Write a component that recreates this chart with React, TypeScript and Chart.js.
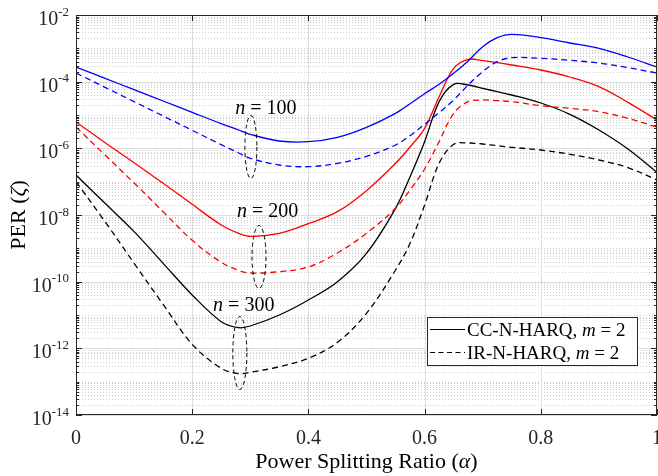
import { useEffect, useRef } from 'react';
import { Chart, registerables } from 'chart.js';

Chart.register(...registerables);

// Power splitting ratio samples
const alpha = [0, 0.05, 0.1, 0.15, 0.2, 0.25, 0.28, 0.3, 0.35, 0.4, 0.45, 0.5, 0.55, 0.575, 0.6, 0.625, 0.65, 0.675, 0.7, 0.725, 0.75, 0.8, 0.85, 0.9, 0.95, 1];

// log10(PER)
const ccN100 = [-3.56, -3.9, -4.24, -4.58, -4.92, -5.26, -5.45, -5.58, -5.78, -5.8, -5.67, -5.37, -4.95, -4.66, -4.36, -4.08, -3.75, -3.38, -2.95, -2.68, -2.58, -2.68, -2.84, -3.0, -3.26, -3.56];
const irN100 = [-3.74, -4.17, -4.6, -5.03, -5.46, -5.89, -6.14, -6.3, -6.5, -6.55, -6.45, -6.24, -5.9, -5.62, -5.28, -4.93, -4.55, -4.1, -3.7, -3.4, -3.28, -3.3, -3.36, -3.44, -3.58, -3.74];
const ccN200 = [-5.21, -5.83, -6.43, -7.05, -7.68, -8.3, -8.55, -8.64, -8.55, -8.26, -7.9, -7.27, -6.45, -5.96, -5.4, -4.45, -3.6, -3.33, -3.37, -3.43, -3.5, -3.65, -3.86, -4.15, -4.62, -5.15];
const irN200 = [-5.36, -6.2, -7.04, -7.9, -8.76, -9.42, -9.66, -9.74, -9.7, -9.56, -9.14, -8.55, -7.8, -7.25, -6.62, -5.8, -4.95, -4.6, -4.55, -4.57, -4.6, -4.72, -4.8, -4.9, -5.1, -5.36];
const ccN300 = [-6.8, -7.65, -8.5, -9.45, -10.4, -11.2, -11.38, -11.33, -11.0, -10.55, -10.0, -9.15, -7.8, -6.85, -5.8, -4.6, -4.08, -4.1, -4.2, -4.3, -4.4, -4.64, -4.98, -5.45, -6.02, -6.72];
const irN300 = [-7.0, -8.2, -9.45, -10.68, -11.88, -12.6, -12.76, -12.72, -12.55, -12.3, -11.82, -10.95, -9.65, -8.85, -7.7, -6.45, -5.88, -5.84, -5.87, -5.92, -5.97, -6.05, -6.18, -6.35, -6.58, -6.95];

const xTicks = [0, 0.2, 0.4, 0.6, 0.8, 1];
const xTickLabels = ['0', '0.2', '0.4', '0.6', '0.8', '1'];
const yTickExps = [-2, -4, -6, -8, -10, -12, -14];
const nValues = ['100', '200', '300'];
const legendLabels = ['CC-N-HARQ, ', 'IR-N-HARQ, '];
const legendM = '2';

// annotation anchors (data coordinates): label left/baseline, ellipse centre
const labelAlpha = [0.274, 0.277, 0.236];
const labelLog = [-4.97, -8.06, -10.88];
const ellipseAlpha = [0.301, 0.315, 0.282];
const ellipseLog = [-5.96, -9.26, -12.14];
const ellipseRx = [6, 7, 7];
const ellipseRy = [31.5, 31.5, 36.5];

const SERIF = "'Liberation Serif', 'Times New Roman', Times, serif";
const AXIS = '#262626';

const toPts = (logs: number[]) => alpha.map((a, i) => ({ x: a, y: Math.pow(10, logs[i]) }));

type Run = [string, string];
function drawRuns(ctx: CanvasRenderingContext2D, runs: Run[], x: number, y: number, align: 'left' | 'center' | 'right') {
  let total = 0;
  for (const [t, f] of runs) { ctx.font = f; total += ctx.measureText(t).width; }
  let cx = align === 'left' ? x : align === 'center' ? x - total / 2 : x - total;
  ctx.textAlign = 'left';
  for (const [t, f] of runs) { ctx.font = f; ctx.fillText(t, cx, y); cx += ctx.measureText(t).width; }
}

const decor = {
  id: 'decor',
  beforeDatasetsDraw(chart: any) {
    const { ctx, chartArea: a, scales } = chart;
    const x = scales.x, y = scales.y;
    ctx.save();
    ctx.lineWidth = 1;
    ctx.strokeStyle = 'rgba(0,0,0,0.2)';
    ctx.setLineDash([1, 2]);
    for (let e = -14; e < -2; e++) {
      for (let k = 1; k <= 9; k++) {
        if (k === 1 && e % 2 === 0) continue;
        const py = Math.round(y.getPixelForValue(k * Math.pow(10, e))) + 0.5;
        ctx.beginPath(); ctx.moveTo(a.left, py); ctx.lineTo(a.right, py); ctx.stroke();
      }
    }
    ctx.setLineDash([]);
    ctx.strokeStyle = '#dedede';
    for (const e of yTickExps) {
      const py = Math.round(y.getPixelForValue(Math.pow(10, e))) + 0.5;
      ctx.beginPath(); ctx.moveTo(a.left, py); ctx.lineTo(a.right, py); ctx.stroke();
    }
    for (const v of xTicks) {
      const px = Math.round(x.getPixelForValue(v)) + 0.5;
      ctx.beginPath(); ctx.moveTo(px, a.top); ctx.lineTo(px, a.bottom); ctx.stroke();
    }
    ctx.restore();
  },
  afterDatasetsDraw(chart: any) {
    const { ctx, chartArea: a, scales } = chart;
    const x = scales.x, y = scales.y;
    ctx.save();
    // annotations
    ctx.fillStyle = '#000';
    ctx.textBaseline = 'alphabetic';
    for (let i = 0; i < nValues.length; i++) {
      const lx = x.getPixelForValue(labelAlpha[i]);
      const ly = y.getPixelForValue(Math.pow(10, labelLog[i]));
      drawRuns(ctx, [['n', `italic 20px ${SERIF}`], [' = ' + nValues[i], `20px ${SERIF}`]], lx, ly, 'left');
      const ex = x.getPixelForValue(ellipseAlpha[i]);
      const ey = y.getPixelForValue(Math.pow(10, ellipseLog[i]));
      ctx.strokeStyle = '#000';
      ctx.lineWidth = 1;
      ctx.setLineDash([4, 3]);
      ctx.beginPath();
      ctx.ellipse(ex, ey, ellipseRx[i], ellipseRy[i], 0, 0, Math.PI * 2);
      ctx.stroke();
    }
    ctx.setLineDash([]);
    // box
    ctx.strokeStyle = AXIS;
    ctx.lineWidth = 1;
    ctx.strokeRect(a.left + 0.5, a.top + 0.5, a.right - a.left - 1, a.bottom - a.top - 1);
    // x ticks
    ctx.beginPath();
    for (const v of xTicks) {
      const px = Math.round(x.getPixelForValue(v)) + 0.5;
      ctx.moveTo(px, a.bottom); ctx.lineTo(px, a.bottom - 6);
      ctx.moveTo(px, a.top); ctx.lineTo(px, a.top + 6);
    }
    // y ticks
    for (let e = -14; e <= -2; e++) {
      for (let k = 1; k <= 9; k++) {
        const v = k * Math.pow(10, e);
        if (v > 1.0001e-2) break;
        const major = k === 1 && e % 2 === 0;
        const len = major ? 6 : 3;
        const py = Math.round(y.getPixelForValue(v)) + 0.5;
        ctx.moveTo(a.left, py); ctx.lineTo(a.left + len, py);
        ctx.moveTo(a.right, py); ctx.lineTo(a.right - len, py);
      }
    }
    ctx.stroke();
    // y tick labels
    ctx.fillStyle = AXIS;
    for (const e of yTickExps) {
      const py = y.getPixelForValue(Math.pow(10, e));
      ctx.font = `13px ${SERIF}`;
      ctx.textAlign = 'right';
      const expStr = String(e);
      const ew = ctx.measureText(expStr).width;
      ctx.fillText(expStr, a.left - 7, py + 0.5);
      ctx.font = `20px ${SERIF}`;
      ctx.fillText('10', a.left - 7 - ew, py + 10);
    }
    // x tick labels
    ctx.font = `20px ${SERIF}`;
    ctx.textAlign = 'center';
    xTicks.forEach((v, i) => {
      ctx.fillText(xTickLabels[i], x.getPixelForValue(v), a.bottom + 29);
    });
    // axis titles
    ctx.fillStyle = '#000';
    drawRuns(ctx, [['Power Splitting Ratio (', `22px ${SERIF}`], ['α', `italic 22px ${SERIF}`], [')', `22px ${SERIF}`]], (a.left + a.right) / 2, a.bottom + 53, 'center');
    ctx.save();
    ctx.translate(25, (a.top + a.bottom) / 2);
    ctx.rotate(-Math.PI / 2);
    drawRuns(ctx, [['PER (', `22px ${SERIF}`], ['ζ', `italic 22px ${SERIF}`], [')', `22px ${SERIF}`]], 0, 0, 'center');
    ctx.restore();
    // legend
    const bx = a.right - 230, by = a.bottom - 98, bw = 210, bh = 48;
    ctx.fillStyle = '#fff';
    ctx.fillRect(bx, by, bw, bh);
    ctx.strokeStyle = AXIS;
    ctx.strokeRect(bx + 0.5, by + 0.5, bw, bh);
    const dashes = [[], [5, 3.5]];
    for (let i = 0; i < 2; i++) {
      const ry = by + 12 + i * 23;
      ctx.strokeStyle = '#000';
      ctx.lineWidth = 1.2;
      ctx.setLineDash(dashes[i]);
      ctx.beginPath(); ctx.moveTo(bx + 3, ry + 0.5); ctx.lineTo(bx + 38, ry + 0.5); ctx.stroke();
      ctx.setLineDash([]);
      ctx.fillStyle = '#000';
      drawRuns(ctx, [[legendLabels[i], `19px ${SERIF}`], ['m', `italic 19px ${SERIF}`], [' = ' + legendM, `19px ${SERIF}`]], bx + 40, ry + 6.5, 'left');
    }
    ctx.restore();
  },
};

export default function App() {
  const ref = useRef<HTMLCanvasElement>(null);
  useEffect(() => {
    document.body.style.margin = '0';
    const mk = (label: string, logs: number[], color: string, dashed: boolean) => ({
      label,
      data: toPts(logs),
      borderColor: color,
      backgroundColor: color,
      borderWidth: 1.3,
      borderDash: dashed ? [6, 4] : [],
      pointRadius: 0,
      fill: false,
      tension: 0.35,
    });
    const chart = new Chart(ref.current!, {
      type: 'line',
      data: {
        datasets: [
          mk('CC n=100', ccN100, '#0000ff', false),
          mk('IR n=100', irN100, '#0000ff', true),
          mk('CC n=200', ccN200, '#ff0000', false),
          mk('IR n=200', irN200, '#ff0000', true),
          mk('CC n=300', ccN300, '#000000', false),
          mk('IR n=300', irN300, '#000000', true),
        ],
      },
      options: {
        animation: false,
        responsive: false,
        devicePixelRatio: 1,
        layout: { padding: { top: 15, right: 1, left: 0, bottom: 0 } },
        plugins: { legend: { display: false }, tooltip: { enabled: false } },
        scales: {
          x: {
            type: 'linear', min: 0, max: 1,
            ticks: { display: false, stepSize: 0.2 },
            grid: { display: false },
            border: { display: false },
            afterFit: (s: any) => { s.height = 61; },
          },
          y: {
            type: 'logarithmic', min: 1e-14, max: 1e-2,
            ticks: { display: false },
            grid: { display: false },
            border: { display: false },
            afterFit: (s: any) => { s.width = 76; },
          },
        },
      },
      plugins: [decor],
    });
    return () => chart.destroy();
  }, []);
  return (
    <div style={{ width: 658, height: 476 }}>
      <canvas ref={ref} width={658} height={476} style={{ display: 'block' }} />
    </div>
  );
}
